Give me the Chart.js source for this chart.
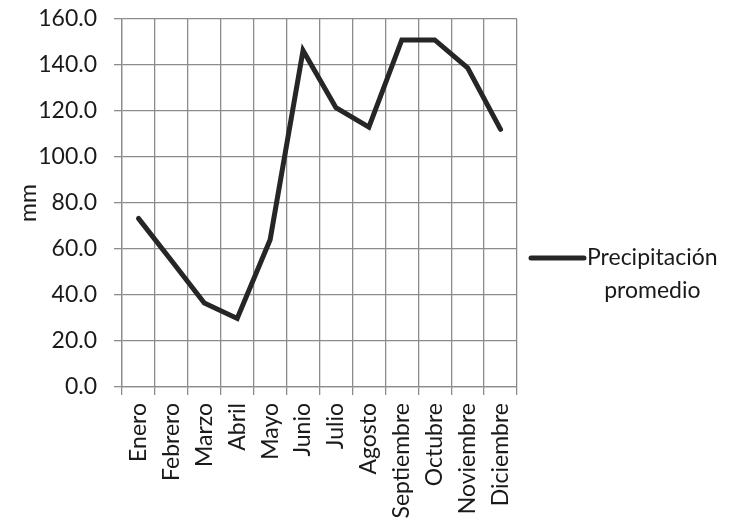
<!DOCTYPE html>
<html>
<head>
<meta charset="utf-8">
<script src="https://cdn.jsdelivr.net/npm/chart.js@4/dist/chart.umd.min.js"></script>
<style>
  html, body { margin: 0; padding: 0; background: #ffffff; }
  #wrap { width: 740px; height: 529px; }
</style>
</head>
<body>
<div id="wrap"><canvas id="c" width="740" height="529"></canvas></div>
<script>
// Monthly average rainfall (mm)
const months = ['Enero', 'Febrero', 'Marzo', 'Abril', 'Mayo', 'Junio', 'Julio',
  'Agosto', 'Septiembre', 'Octubre', 'Noviembre', 'Diciembre'];
const precipitation = [73.3, 55.0, 36.5, 29.8, 64.0, 146.3, 121.4, 113.0, 150.9, 150.9, 138.8, 112.0];
const seriesName = ['Precipitación', 'promedio'];
const yTitle = 'mm';

const FONT = 'Lato, "Liberation Sans", sans-serif';
const GRID = '#8c8c8c';
const LINE = '#262626';

// Legend drawn to the right of the plot: line sample + two-line label
const sideLegend = {
  id: 'sideLegend',
  afterDraw(chart) {
    const ctx = chart.ctx;
    const a = chart.chartArea;
    const y0 = (a.top + a.bottom) / 2 + 55;
    const x0 = a.right + 14;
    ctx.save();
    ctx.strokeStyle = LINE;
    ctx.lineWidth = 5;
    ctx.lineCap = 'round';
    ctx.beginPath();
    ctx.moveTo(x0, y0);
    ctx.lineTo(x0 + 53, y0);
    ctx.stroke();
    ctx.fillStyle = '#1a1a1a';
    ctx.font = '23px ' + FONT;
    ctx.textAlign = 'center';
    ctx.textBaseline = 'middle';
    const cx = x0 + 53 + 3 + ctx.measureText(seriesName[0]).width / 2;
    ctx.fillText(seriesName[0], cx, y0);
    ctx.fillText(seriesName[1], cx, y0 + 33);
    ctx.restore();
  }
};

new Chart(document.getElementById('c'), {
  type: 'line',
  data: {
    labels: months,
    datasets: [{
      label: seriesName.join(' '),
      data: precipitation,
      borderColor: LINE,
      backgroundColor: LINE,
      borderWidth: 5,
      borderCapStyle: 'round',
      borderJoinStyle: 'miter',
      pointRadius: 0,
      tension: 0,
      fill: false
    }]
  },
  options: {
    responsive: false,
    devicePixelRatio: 1,
    animation: false,
    layout: { padding: { left: 0, right: 223, top: 19, bottom: 0 } },
    plugins: {
      legend: { display: false },
      tooltip: { enabled: false }
    },
    scales: {
      x: {
        offset: true,
        grid: { offset: true, color: GRID, lineWidth: 1.3, tickLength: 8, drawTicks: true },
        border: { color: GRID, width: 1.3 },
        ticks: {
          color: '#1a1a1a',
          font: { family: FONT, size: 23 },
          minRotation: 90,
          maxRotation: 90,
          padding: 8,
          autoSkip: false
        },
        afterFit(scale) {
          scale.height = 142;
          scale.paddingLeft = 0;
          scale.paddingRight = 0;
        }
      },
      y: {
        min: 0,
        max: 160,
        grid: { color: GRID, lineWidth: 1.3, tickLength: 8 },
        border: { color: GRID, width: 1.3 },
        ticks: {
          stepSize: 20,
          color: '#1a1a1a',
          font: { family: FONT, size: 23 },
          padding: 17,
          callback: (v) => Number(v).toFixed(1)
        },
        title: {
          display: true,
          text: yTitle,
          color: '#1a1a1a',
          font: { family: FONT, size: 23 },
          padding: { top: 15, bottom: 0 }
        },
        afterFit(scale) {
          scale.width = 122;
          scale.paddingTop = 0;
          scale.paddingBottom = 0;
        }
      }
    }
  },
  plugins: [sideLegend]
});
</script>
</body>
</html>
